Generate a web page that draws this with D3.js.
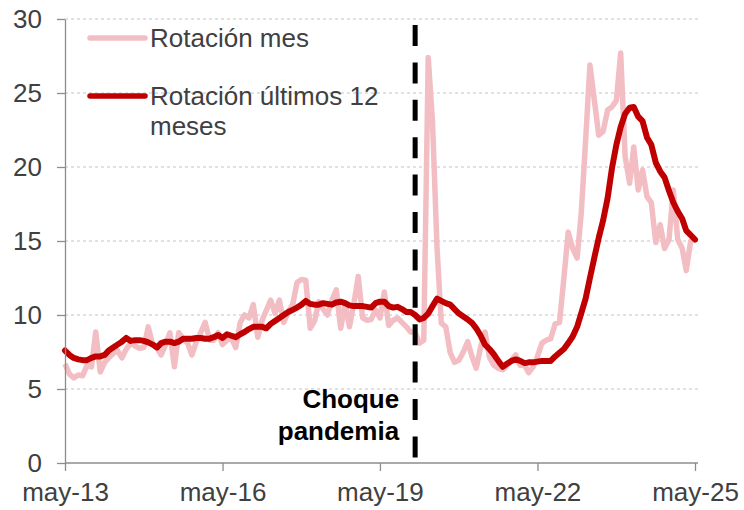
<!DOCTYPE html>
<html>
<head>
<meta charset="utf-8">
<script src="https://cdn.jsdelivr.net/npm/d3@7"></script>
<style>
  body { margin: 0; background: #fff; }
  svg { display: block; font-family: "Liberation Sans", Arial, sans-serif; }
</style>
</head>
<body>
<div id="chart"></div>
<script>
// monthly rotation, may-13 .. may-25
const rotacionMes = [
  6.7, 6.0, 5.75, 5.95, 5.9, 6.6, 6.5, 8.85, 6.15, 6.8,
  7.1, 7.4, 7.6, 7.1, 7.7, 8.1, 7.9, 7.75, 7.8, 9.2,
  8.0, 7.75, 7.3, 8.0, 8.8, 6.5, 8.8, 8.4, 8.1, 7.3,
  8.2, 8.8, 9.5, 8.3, 8.3, 8.8, 8.0, 8.3, 8.45, 7.8,
  9.5, 10.0, 9.8, 10.7, 8.5, 9.65, 10.3, 11.0, 10.1, 11.0,
  9.5, 10.2, 10.7, 12.2, 12.4, 12.35, 9.1, 9.6, 10.9, 10.4,
  10.0, 11.0, 11.7, 9.1, 10.8, 9.2, 10.8, 12.6, 9.8, 9.65,
  9.7, 10.35, 9.8, 11.55, 9.3, 9.65, 9.8, 9.5, 9.2, 8.85,
  8.8, 8.1, 8.3, 27.4, 23.0, 14.6, 9.45, 9.2, 7.45, 6.8,
  6.95, 7.5, 8.2, 7.15, 6.4, 7.85, 8.85, 7.15, 6.6, 6.4,
  6.3, 6.6, 6.95, 7.3, 6.6, 6.6, 6.1, 6.5, 7.2, 8.1,
  8.3, 8.4, 9.4, 9.5, 12.5, 15.6, 14.5, 13.85, 16.8, 21.8,
  26.9, 24.5, 22.15, 22.4, 23.85, 24.05, 24.5, 27.7, 20.7, 18.9,
  21.35, 18.45, 19.8, 18.0, 17.6, 14.9, 16.1, 14.5, 15.1, 18.45,
  15.1, 14.5, 13.0, 15.0, 15.1
];
const rotacion12m = [
  7.6, 7.3, 7.1, 7.0, 6.95, 6.95, 7.1, 7.2, 7.2, 7.3,
  7.6, 7.8, 8.0, 8.2, 8.45, 8.25, 8.3, 8.3, 8.25, 8.15,
  8.0, 7.8, 8.1, 8.2, 8.2, 8.1, 8.2, 8.4, 8.4, 8.4,
  8.45, 8.45, 8.4, 8.4, 8.5, 8.65, 8.45, 8.7, 8.6, 8.5,
  8.7, 8.85, 9.05, 9.2, 9.2, 9.2, 9.1, 9.4, 9.6, 9.8,
  10.0, 10.2, 10.35, 10.5, 10.7, 10.95, 10.75, 10.7, 10.7, 10.8,
  10.75, 10.7, 10.85, 10.9, 10.8, 10.65, 10.6, 10.6, 10.6, 10.55,
  10.5, 10.8, 10.9, 10.9, 10.6, 10.5, 10.55, 10.4, 10.2, 10.2,
  10.0, 9.7, 9.8, 10.1, 10.6, 11.1, 10.95, 10.8, 10.7, 10.4,
  10.1, 9.9, 9.7, 9.45, 9.1, 8.6, 8.0, 7.7, 7.35, 6.9,
  6.5, 6.7, 6.9, 7.0, 6.9, 6.75, 6.8, 6.8, 6.85, 6.9,
  6.9, 6.9, 7.2, 7.45, 7.7, 8.1, 8.55, 9.2, 10.1, 11.1,
  12.5, 13.9, 15.2, 16.4, 17.9, 19.9, 21.5, 22.7, 23.6, 24.0,
  24.05, 23.4, 23.1, 22.0, 21.5, 20.3, 19.7, 19.3, 18.4, 17.6,
  17.0, 16.5, 15.7, 15.4, 15.1
];
const months = d3.timeMonth.range(new Date(2013, 4, 1), new Date(2025, 5, 1));

const yTicks = [0, 5, 10, 15, 20, 25, 30];
const xTicks = [new Date(2013, 4, 1), new Date(2016, 4, 1), new Date(2019, 4, 1), new Date(2022, 4, 1), new Date(2025, 4, 1)];
const xTickLabels = ['may-13', 'may-16', 'may-19', 'may-22', 'may-25'];
const choqueFecha = new Date(2020, 0, 1);
const choqueTexto = ['Choque', 'pandemia'];
const legendLabels = [['Rotación mes'], ['Rotación últimos 12', 'meses']];

const colorMes = '#f2bec4';
const color12m = '#c00000';
const axisColor = '#8c8c8c';
const textColor = '#404040';

const width = 744, height = 510;

const svg = d3.select('#chart')
  .append('svg')
  .attr('width', width)
  .attr('height', height);

const x = d3.scaleTime()
  .domain([months[0], months[months.length - 1]])
  .range([65, 695]);

const y = d3.scaleLinear()
  .domain([0, 30])
  .range([463, 19]);

// gridlines
svg.append('g')
  .selectAll('line')
  .data(yTicks.filter(d => d > 0))
  .enter()
  .append('line')
  .attr('x1', x.range()[0])
  .attr('x2', x.range()[1] + 3)
  .attr('y1', d => y(d))
  .attr('y2', d => y(d))
  .attr('stroke', '#c4c4c4')
  .attr('stroke-width', 1)
  .attr('stroke-dasharray', '3,3');

// series
const line = d3.line()
  .x((d, i) => x(months[i]))
  .y(d => y(d));

svg.append('path')
  .datum(rotacionMes)
  .attr('fill', 'none')
  .attr('stroke', colorMes)
  .attr('stroke-width', 5.5)
  .attr('stroke-linejoin', 'round')
  .attr('d', line);

// pandemic marker
svg.append('line')
  .attr('x1', x(choqueFecha))
  .attr('x2', x(choqueFecha))
  .attr('y1', 25)
  .attr('y2', y(0))
  .attr('stroke', '#000')
  .attr('stroke-width', 5)
  .attr('stroke-dasharray', '21,16.4');

svg.append('path')
  .datum(rotacion12m)
  .attr('fill', 'none')
  .attr('stroke', color12m)
  .attr('stroke-width', 6)
  .attr('stroke-linejoin', 'round')
  .attr('stroke-linecap', 'round')
  .attr('d', line);

svg.append('text')
  .attr('x', x(choqueFecha) - 16)
  .attr('y', 408)
  .attr('text-anchor', 'end')
  .attr('font-size', 26)
  .attr('font-weight', 'bold')
  .attr('fill', '#000')
  .selectAll('tspan')
  .data(choqueTexto)
  .enter()
  .append('tspan')
  .attr('x', x(choqueFecha) - 16)
  .attr('dy', (d, i) => i === 0 ? 0 : 32)
  .text(d => d);

// axes
const yAxis = svg.append('g')
  .attr('transform', `translate(${x.range()[0]},0)`)
  .call(d3.axisLeft(y).tickValues(yTicks).tickSize(8).tickSizeOuter(0).tickPadding(15));

const xAxis = svg.append('g')
  .attr('transform', `translate(0,${y(0)})`)
  .call(d3.axisBottom(x).tickValues(xTicks).tickFormat((d, i) => xTickLabels[i])
    .tickSize(8).tickSizeOuter(0).tickPadding(12));

xAxis.select('.domain').attr('d', `M${x.range()[0]},0H${x.range()[1] + 3}`);

[xAxis, yAxis].forEach(g => {
  g.selectAll('.domain, .tick line').attr('stroke', axisColor).attr('stroke-width', 1.3);
  g.selectAll('.tick text')
    .attr('font-size', 26)
    .attr('font-family', '"Liberation Sans", Arial, sans-serif')
    .attr('fill', textColor);
});

// legend
const legend = svg.append('g');
const legendItems = [
  { color: colorMes, y: 38, lines: legendLabels[0] },
  { color: color12m, y: 96, lines: legendLabels[1] }
];
legendItems.forEach(item => {
  legend.append('line')
    .attr('x1', 90)
    .attr('x2', 145)
    .attr('y1', item.y)
    .attr('y2', item.y)
    .attr('stroke', item.color)
    .attr('stroke-width', 5.5)
    .attr('stroke-linecap', 'round');
  legend.append('text')
    .attr('font-size', 26)
    .attr('fill', textColor)
    .selectAll('tspan')
    .data(item.lines)
    .enter()
    .append('tspan')
    .attr('x', 150)
    .attr('y', (d, i) => item.y + 9 + i * 30)
    .text(d => d);
});
</script>
</body>
</html>
